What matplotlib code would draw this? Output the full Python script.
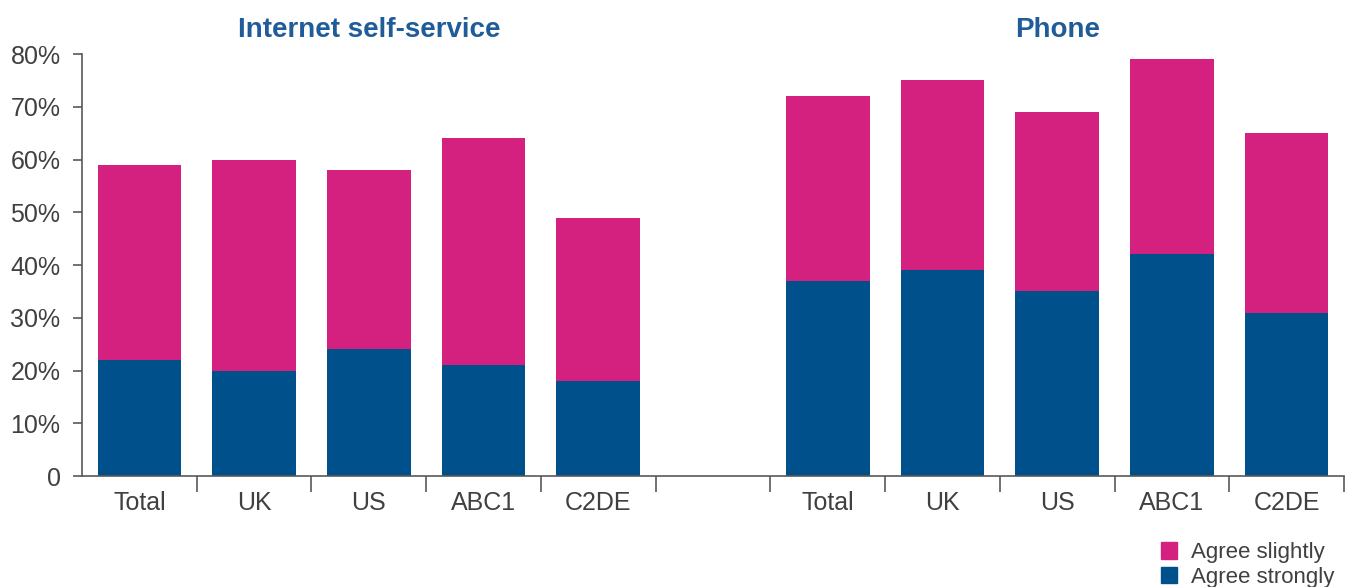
import matplotlib.pyplot as plt
import numpy as np
from matplotlib.patches import Patch
from matplotlib.ticker import FixedLocator, FuncFormatter

plt.rcParams["font.family"] = ["Liberation Sans", "DejaVu Sans"]

# ---- data ------------------------------------------------------------------
groups = ["Internet self-service", "Phone"]
categories = ["Total", "UK", "US", "ABC1", "C2DE"]
internet_strongly = [22, 20, 24, 21, 18]
internet_total = [59, 60, 58, 64, 49]
phone_strongly = [37, 39, 35, 42, 31]
phone_total = [72, 75, 69, 79, 65]

PINK = "#d4207f"
BLUE = "#00508b"
TEXT = "#404040"
AXIS = "#595959"

# 11 slots: 5 bars, one empty gap, 5 bars
n = len(categories)
x_int = np.arange(n)
x_ph = np.arange(n) + n + 1
strongly = internet_strongly + phone_strongly
slightly = [t - s for t, s in zip(internet_total + phone_total, strongly)]
xs = np.concatenate([x_int, x_ph])

fig = plt.figure(figsize=(13.54, 5.87), dpi=100)
ax = fig.add_axes([0.0606, 0.189, 0.932, 0.719])

ax.bar(xs, strongly, width=0.73, color=BLUE, label="Agree strongly")
ax.bar(xs, slightly, width=0.73, bottom=strongly, color=PINK, label="Agree slightly")

ax.set_xlim(-0.5, 2 * n + 0.5)
ax.set_ylim(0, 80)
ax.set_yticks(np.arange(0, 81, 10))
ax.yaxis.set_major_formatter(FuncFormatter(lambda v, _: "0" if v == 0 else f"{v:.0f}%"))

ax.set_xticks(xs)
ax.set_xticklabels(categories + categories)
ax.xaxis.set_minor_locator(FixedLocator(np.arange(0.5, 2 * n + 1, 1.0)))

for s in ["top", "right"]:
    ax.spines[s].set_visible(False)
for s in ["left", "bottom"]:
    ax.spines[s].set_color(AXIS)
    ax.spines[s].set_linewidth(1.2)

ax.tick_params(axis="y", direction="out", length=6.5, width=1.2, color=AXIS,
               pad=9, labelsize=18, labelcolor=TEXT)
ax.tick_params(axis="x", which="major", length=0, pad=11, labelsize=18, labelcolor=TEXT)
ax.tick_params(axis="x", which="minor", direction="out", length=11.5, width=1.2, color=AXIS)

# group titles above the bar groups
for title, xc in zip(groups, [x_int.mean(), x_ph.mean()]):
    ax.text(xc, 82.0, title, ha="center", va="bottom", fontsize=20,
            fontweight="bold", color="#1f5c99", clip_on=False)

handles = [Patch(color=PINK), Patch(color=BLUE)]
fig.legend(handles, ["Agree slightly", "Agree strongly"], loc="lower right",
           bbox_to_anchor=(1.0, -0.035), frameon=False, fontsize=16,
           handlelength=0.75, handleheight=0.75, handletextpad=0.6,
           labelspacing=0.15, labelcolor=TEXT)

fig.savefig("out.png", dpi=100)
